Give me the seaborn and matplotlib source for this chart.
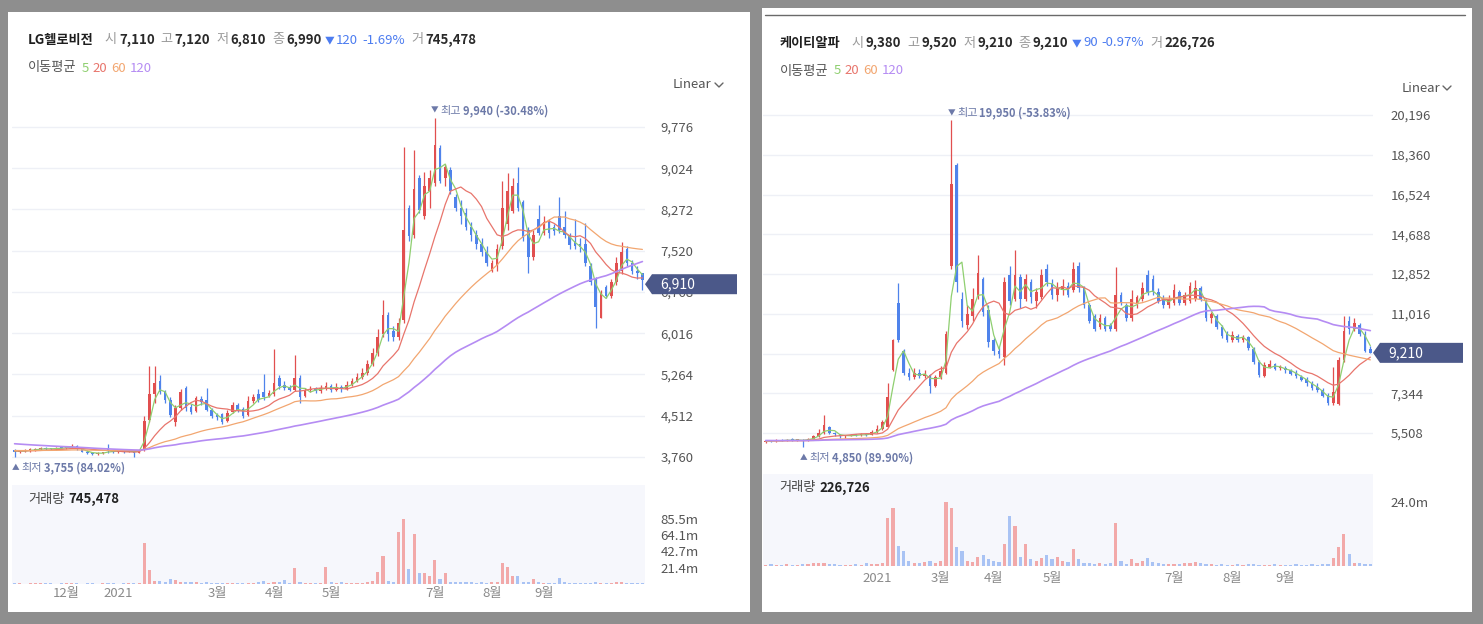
import numpy as np
import pandas as pd
import matplotlib
matplotlib.use("Agg")
import matplotlib.pyplot as plt
import matplotlib.transforms as mtransforms
import seaborn as sns
from matplotlib.patches import Rectangle, Polygon
from matplotlib.lines import Line2D
from matplotlib.ticker import FuncFormatter

# -------------------
# Data (2-day candles)
# -------------------
# closes before the visible window, estimated from where the long MAs start
lg_prior_close = [4280, 4260, 4250, 4240, 4230, 4220, 4230, 4210, 4200, 4190, 4200, 4180, 4170, 4160, 4170, 4150, 4140, 4130, 4120, 4110,
                  4100, 4080, 4060, 4040, 4020, 3950, 3930, 3920, 3900, 3910, 3890, 3880, 3900, 3890, 3880, 3870, 3890, 3900, 3880, 3870,
                  3860, 3880, 3890, 3900, 3880, 3870, 3860, 3880, 3890, 3870, 3880, 3860, 3870, 3880, 3890, 3870, 3860, 3870, 3880]
lg_open = [3880, 3850, 3870, 3880, 3890, 3900, 3920, 3910, 3900, 3930, 3920, 3940, 3960, 3900, 3860, 3840, 3820, 3830, 3900, 3880,
           3860, 3870, 3860, 3870, 3840, 3880, 4440, 4900, 5150, 4950, 4800, 4400, 4650, 5020, 4680, 4600, 4820, 4800, 4620, 4520,
           4550, 4420, 4580, 4700, 4640, 4520, 4780, 4900, 4950, 4880, 4900, 5200, 5080, 5030, 4990, 5200, 4880, 4980, 5000, 4960,
           5020, 5060, 4980, 5040, 5000, 5080, 5150, 5220, 5300, 5450, 5650, 6000, 6350, 6050, 5950, 6250, 8300, 7800, 8850, 8150,
           8600, 8750, 9400, 8850, 9000, 8500, 8300, 8200, 7950, 7800, 7650, 7500, 7150, 7250, 7600, 8000, 8250, 8750, 8400, 7900,
           7400, 8100, 7850, 8050, 7950, 8150, 7950, 7780, 7700, 7650, 7650, 7250, 7000, 6300, 6850, 6700, 6950, 7150, 7550, 7300,
           7150, 7110]
lg_high = [3900, 3890, 3900, 3920, 3930, 3950, 3940, 3930, 3950, 3950, 3960, 3990, 3970, 3910, 3880, 3860, 3850, 3860, 4000, 3890,
           3890, 3880, 3890, 3880, 3890, 4500, 5420, 5410, 5250, 4990, 4850, 4700, 5000, 5060, 4720, 4870, 4880, 5020, 4650, 4560,
           4570, 4620, 4760, 4740, 4680, 4880, 4900, 5000, 5270, 4990, 5730, 5250, 5140, 5080, 5620, 5260, 5020, 5050, 5040, 5080,
           5120, 5090, 5100, 5080, 5150, 5200, 5300, 5380, 5520, 5750, 6100, 6620, 6400, 6150, 6300, 9410, 8350, 9360, 8900, 8950,
           9000, 9940, 9450, 9100, 9050, 8550, 8450, 8300, 8050, 7900, 7750, 7600, 7350, 7650, 8800, 8940, 8850, 9050, 8450, 7950,
           7900, 8350, 8150, 8100, 8000, 8500, 8250, 7850, 8100, 7750, 8030, 7300, 7050, 6800, 6900, 7000, 7400, 7680, 7600, 7350,
           7250, 7120]
lg_low = [3755, 3830, 3850, 3860, 3870, 3880, 3890, 3880, 3890, 3900, 3900, 3920, 3890, 3850, 3820, 3800, 3800, 3810, 3840, 3840,
          3840, 3840, 3850, 3760, 3830, 3870, 4400, 4750, 4900, 4750, 4480, 4330, 4620, 4600, 4540, 4580, 4700, 4600, 4470, 4430,
          4370, 4400, 4560, 4580, 4470, 4500, 4750, 4760, 4800, 4850, 4880, 5000, 4990, 4960, 4970, 4740, 4860, 4940, 4920, 4930,
          4990, 4950, 4960, 4940, 4980, 5050, 5120, 5180, 5260, 5420, 5600, 5950, 5880, 5880, 5900, 6200, 7700, 7750, 8200, 8100,
          8300, 8700, 8750, 8700, 8550, 8250, 8000, 7900, 7700, 7550, 7420, 7250, 7130, 7150, 7550, 7900, 8200, 8250, 7700, 7120,
          7350, 7800, 7800, 7750, 7800, 7850, 7750, 7550, 7550, 7500, 7250, 6900, 6110, 6290, 6650, 6650, 6900, 7100, 7250, 7100,
          7000, 6810]
lg_close = [3850, 3870, 3880, 3890, 3900, 3920, 3910, 3900, 3930, 3920, 3940, 3960, 3900, 3860, 3840, 3820, 3830, 3840, 3880, 3860,
            3870, 3860, 3870, 3840, 3880, 4420, 4900, 5100, 4950, 4800, 4520, 4650, 4950, 4650, 4580, 4830, 4760, 4620, 4500, 4480,
            4400, 4560, 4700, 4620, 4500, 4780, 4850, 4800, 4850, 4920, 5100, 5050, 5020, 4990, 5200, 4850, 4980, 5000, 4960, 5020,
            5060, 4980, 5040, 5000, 5080, 5150, 5220, 5300, 5450, 5650, 5950, 6350, 6000, 5950, 6200, 7900, 7780, 8650, 8270, 8700,
            8850, 9450, 8800, 9050, 8600, 8300, 8150, 7950, 7800, 7650, 7500, 7300, 7300, 7550, 8300, 8600, 8700, 8300, 7750, 7400,
            7800, 7850, 8050, 7850, 7880, 7900, 7800, 7620, 7600, 7580, 7300, 6950, 6500, 6750, 6700, 6950, 7300, 7500, 7300, 7150,
            7110, 6990]
lg_volume = [0.8, 1.0, 0.6, 0.9, 1.2, 0.7, 0.8, 1.0, 0.6, 0.9, 1.1, 1.5, 0.8, 0.6, 0.7, 0.9, 0.6, 0.8, 1.3, 0.7,
             0.6, 0.8, 0.7, 0.9, 1.0, 53, 18, 4, 3.5, 2, 6, 5, 3, 2.5, 2, 2.5, 1.5, 2.5, 1.5, 1.2,
             1.5, 1.2, 1.5, 1.2, 1.0, 1.5, 1.2, 2, 4, 1.5, 3, 2, 5, 1.5, 21, 3, 1.5, 1.2, 1, 1.5,
             22, 2, 1.2, 3, 1.2, 1, 1.2, 1.5, 2, 4, 16, 36, 4, 3, 68, 85, 19, 66, 15, 14,
             10, 31, 6, 15, 3, 3, 2.5, 3, 2, 1.5, 2, 1.5, 2, 3, 27, 22, 11, 11, 3, 3,
             6, 2, 1.5, 1.5, 1.5, 8, 2, 1.5, 1.2, 1, 1.5, 1.5, 2, 1.5, 1, 1.2, 3, 2, 1, 1,
             0.8, 0.7]
lg_xlabels = ["12월", "2021", "3월", "4월", "5월", "7월", "8월", "9월"]
lg_xtick_idx = [10, 20, 39, 50, 61, 81, 92, 102]
lg_yticks = [3760, 4512, 5264, 6016, 6768, 7520, 8272, 9024, 9776]
lg_vticks = [21.4, 42.7, 64.1, 85.5]
lg_last = 6910
lg_last_volume = "745,478"

kt_prior_close = [5200, 5230, 5180, 5150, 5170, 5210, 5190, 5160, 5140, 5180, 5220, 5200, 5170, 5150, 5130, 5160, 5190, 5210, 5180, 5150,
                  5120, 5140, 5170, 5190, 5160, 5130, 5150, 5180, 5200, 5170, 5140, 5120, 5150, 5170, 5190, 5160, 5140, 5130, 5150, 5180,
                  5170, 5150, 5130, 5140, 5160, 5180, 5170, 5150, 5120, 5130, 5150, 5170, 5160, 5140, 5130, 5150, 5160, 5140, 5130]
kt_open = [5100, 5150, 5120, 5180, 5150, 5200, 5170, 5190, 5150, 5250, 5350, 5500, 5800, 5500, 5450, 5350, 5380, 5420, 5400, 5450,
           5420, 5550, 5700, 5800, 8400, 11500, 9300, 8300, 8100, 8300, 8150, 8200, 7700, 8100, 8300, 13200, 17900, 11700, 10500, 10900,
           11800, 12600, 11200, 9800, 9300, 9000, 12800, 11700, 12700, 11700, 12500, 11600, 11800, 13100, 12400, 11900, 12100, 12300, 12100, 13200,
           12200, 11400, 10900, 10400, 10800, 10500, 10300, 11900, 11400, 10800, 11500, 11700, 12800, 12600, 12000, 11700, 11400, 11500, 12000, 11500,
           11600, 11700, 12200, 11600, 10800, 10900, 10400, 10100, 9800, 10000, 9800, 9950, 9400, 8800, 8150, 8550, 8700, 8500, 8500, 8400,
           8300, 8100, 8000, 7800, 7650, 7500, 7250, 6900, 6850, 8900, 10700, 10300, 10500, 10100, 9380]
kt_high = [5200, 5190, 5220, 5230, 5240, 5260, 5230, 5210, 5300, 5400, 5700, 6340, 5850, 5550, 5480, 5420, 5480, 5460, 5500, 5520,
           5650, 5900, 6110, 7820, 9850, 12440, 9400, 8500, 8500, 8450, 8400, 8250, 8200, 8600, 10200, 19950, 18000, 12000, 11400, 12200,
           13730, 12700, 11400, 9900, 9500, 12700, 13200, 13950, 12850, 12850, 12600, 12200, 13100, 13300, 12600, 12500, 12600, 12500, 13400, 13400,
           12300, 11500, 11000, 11000, 10900, 10600, 13175, 12000, 11500, 12100, 11900, 12500, 13040, 12800, 12200, 11900, 11900, 12400, 12100, 12000,
           12500, 12580, 12300, 11700, 11100, 11000, 10500, 10200, 10200, 10100, 10050, 10000, 9500, 8900, 8800, 8900, 8750, 8650, 8600, 8450,
           8400, 8200, 8100, 7900, 7800, 7600, 7350, 8560, 9000, 10900, 10900, 10800, 10600, 10200, 9520]
kt_low = [5050, 5080, 5100, 5120, 5120, 5140, 5130, 4850, 5120, 5220, 5320, 5450, 5450, 5380, 5300, 5300, 5350, 5360, 5370, 5380,
          5400, 5520, 5650, 5780, 8350, 9700, 8200, 7950, 8000, 8050, 8050, 7350, 7650, 8000, 8250, 13100, 12000, 10400, 10300, 10700,
          11700, 10900, 9500, 9100, 8950, 8650, 11400, 11600, 11300, 11600, 11500, 11300, 11700, 12300, 11700, 11600, 11900, 11800, 12000, 12000,
          11300, 10600, 10200, 10300, 10200, 10200, 10200, 11400, 10700, 10700, 11300, 11600, 11900, 11900, 11500, 11300, 11300, 11400, 11400, 11400,
          11500, 11600, 11600, 10700, 10600, 10300, 9900, 9700, 9700, 9700, 9700, 9350, 8700, 8100, 8100, 8500, 8400, 8400, 8300, 8200,
          8050, 7900, 7700, 7500, 7400, 7150, 6800, 6800, 6800, 8800, 10100, 10200, 10000, 9250, 9210]
kt_close = [5150, 5120, 5180, 5150, 5200, 5170, 5190, 5150, 5250, 5350, 5500, 5900, 5500, 5450, 5350, 5380, 5420, 5400, 5450, 5420,
            5550, 5700, 6000, 7150, 9800, 9800, 8300, 8100, 8300, 8150, 8250, 7700, 8100, 8350, 10100, 17000, 12500, 10700, 11000, 11700,
            12900, 11100, 9700, 9300, 9150, 12500, 11600, 12800, 11700, 12600, 11800, 12000, 12800, 12500, 11900, 12200, 12300, 11900, 13100, 12200,
            11400, 10700, 10300, 10800, 10300, 10300, 11900, 11500, 10800, 11700, 11800, 12200, 12000, 12000, 11600, 11400, 11700, 12100, 11500, 11900,
            12300, 12200, 11700, 10800, 11000, 10400, 10000, 9800, 10050, 9800, 9950, 9450, 8800, 8200, 8650, 8700, 8450, 8550, 8400, 8250,
            8150, 7950, 7800, 7600, 7500, 7200, 6900, 7400, 8900, 10200, 10300, 10600, 10100, 9300, 9210]
kt_volume = [0.5, 0.6, 0.4, 0.5, 0.6, 0.5, 0.4, 0.6, 0.8, 1.0, 1.3, 1.3, 0.8, 0.6, 0.5, 0.4, 0.5, 0.6, 0.5, 1.3,
             0.6, 0.8, 1.0, 18, 22, 7.6, 5.6, 2, 1.2, 1, 1.5, 1.8, 1.2, 2, 24, 22, 7, 5.6, 2, 1.5,
             3.4, 4.3, 2.5, 2, 1.5, 8.3, 18.7, 15, 3.4, 8.3, 2.7, 2, 3, 4, 2.5, 3.4, 2, 1.5, 6.3, 2.5,
             1.2, 1, 0.8, 1, 0.8, 1, 16.3, 1.7, 0.6, 2.7, 1, 1.7, 3, 1.5, 1, 0.8, 0.6, 0.8, 0.7, 1,
             1.2, 1.5, 1, 0.8, 0.6, 0.5, 0.6, 0.4, 0.5, 0.7, 0.5, 0.6, 0.8, 0.5, 0.4, 0.5, 0.6, 0.4, 0.5, 0.4,
             0.6, 0.5, 0.4, 0.6, 0.5, 0.6, 0.8, 3, 7.3, 12.2, 4.7, 1.2, 1, 0.8, 0.6]
kt_xlabels = ["2021", "3월", "4월", "5월", "7월", "8월", "9월"]
kt_xtick_idx = [21, 33, 43, 54, 77, 88, 98]
kt_yticks = [5508, 7344, 9180, 11016, 12852, 14688, 16524, 18360, 20196]
kt_vticks = [24.0]
kt_last = 9210
kt_last_volume = "226,726"

ma_labels = ["5", "20", "60", "120"]
ma_windows = [3, 10, 30, 60]   # 2-day candles
ma_colors = ["#8fcf70", "#e8756c", "#f2a670", "#b58cf3"]

# -------------------
# Style
# -------------------
RED, BLUE = "#e14f4f", "#4f83eb"
VOL_RED, VOL_BLUE = "#f2a9a9", "#a9c3f4"
TAG = "#4b5889"
NOTE = "#6c79a8"

sns.set_theme(style="white")
plt.rcParams["font.family"] = ["Noto Sans CJK KR", "DejaVu Sans"]

W, H = 1483, 624
fig = plt.figure(figsize=(W / 100, H / 100), dpi=100)
fig.patch.set_facecolor("#8e8e8e")
renderer = fig.canvas.get_renderer()
IDENT = mtransforms.IdentityTransform()

for x0, y0, x1, y1 in [(8, 12, 750, 612), (762, 8, 1472, 612)]:
    fig.add_artist(Rectangle((x0 / W, 1 - y1 / H), (x1 - x0) / W, (y1 - y0) / H,
                             transform=fig.transFigure, facecolor="white", edgecolor="none", zorder=-5))
fig.add_artist(Line2D([765 / W, 1465 / W], [1 - 15 / H, 1 - 15 / H], transform=fig.transFigure,
                      color="#6a6a6a", lw=1))


def px_axes(x0, y0, x1, y1):
    return fig.add_axes([x0 / W, 1 - y1 / H, (x1 - x0) / W, (y1 - y0) / H])


def run_text(x, y, pieces, size=9.5):
    """Draw text pieces one after another starting at pixel (x, y), top-left origin."""
    for s, color, bold, gap, fs in pieces:
        t = fig.text(x / W, 1 - y / H, s, color=color, fontsize=fs or size,
                     fontweight="bold" if bold else "normal", ha="left", va="center")
        x += t.get_window_extent(renderer).width + gap
    return x


def chevron(x, y):
    fig.add_artist(Line2D([x / W, (x + 4) / W, (x + 8) / W], [1 - (y - 2) / H, 1 - (y + 2) / H, 1 - (y - 2) / H],
                          transform=fig.transFigure, color="#666666", lw=1))


def draw_panel(geo, prior, o, h, l, c, v, last, yticks, vticks, xtick_idx, xlabels):
    o, h, l, c, v = (np.asarray(a, float) for a in (o, h, l, c, v))
    x = np.arange(len(c))
    up = c >= o

    ax = px_axes(*geo["price_box"])
    vax = px_axes(*geo["vol_box"])

    # candles
    colors = np.where(up, RED, BLUE)
    ax.vlines(x, l, h, colors=colors, lw=0.9, zorder=2)
    ax.bar(x, np.maximum(np.abs(c - o), geo["min_body"]), bottom=np.minimum(o, c),
           width=0.5, color=colors, lw=0, zorder=2)

    # moving averages (warmed up with the closes before the window)
    close = pd.Series(list(prior) + list(c))
    for lab, w, col in zip(ma_labels, ma_windows, ma_colors):
        ma = close.rolling(w, min_periods=1).mean().values[len(prior):]
        sns.lineplot(x=x, y=ma, ax=ax, color=col, lw=1.2 if lab == "120" else 0.9,
                     zorder=3, legend=False)

    ax.set_xlim(-0.5, len(c) - 0.5)
    ax.set_ylim(*geo["ylim"])
    ax.set_yticks(yticks)
    ax.set_xticks([])
    ax.set_xlabel("")
    ax.set_ylabel("")
    ax.yaxis.tick_right()
    ax.yaxis.set_major_formatter(FuncFormatter(lambda val, pos: f"{val:,.0f}"))
    ax.tick_params(axis="y", length=0, pad=geo["ypad"], labelsize=9.5, labelcolor="#555555")
    ax.grid(axis="y", color="#eef0f6", lw=1)
    ax.set_facecolor("none")
    sns.despine(ax=ax, left=True, bottom=True, right=True, top=True)

    # volume
    vax.bar(x, v, width=0.6, color=np.where(up, VOL_RED, VOL_BLUE), lw=0)
    vax.set_xlim(-0.5, len(c) - 0.5)
    vax.set_ylim(0, geo["vmax"])
    vax.set_yticks(vticks)
    vax.yaxis.tick_right()
    vax.yaxis.set_major_formatter(FuncFormatter(lambda val, pos: f"{val:.1f}m"))
    vax.set_xticks(xtick_idx)
    vax.set_xticklabels(xlabels)
    vax.tick_params(axis="y", length=0, pad=geo["ypad"], labelsize=9.5, labelcolor="#555555")
    vax.tick_params(axis="x", length=0, pad=geo["xpad"], labelsize=9.5, labelcolor="#8a8a8a")
    vax.set_facecolor("#f6f7fc")
    sns.despine(ax=vax, left=True, bottom=True, right=True, top=True)

    # last price tag
    xt, xe = geo["tag_x"]
    yd = ax.transData.transform((0, last))[1]
    fig.add_artist(Polygon([(xt, yd), (xt + 7, yd + 10), (xe, yd + 10), (xe, yd - 10), (xt + 7, yd - 10)],
                           closed=True, transform=IDENT, facecolor=TAG, edgecolor="none", zorder=6))
    fig.text(xt + 15, yd, f"{last:,}", transform=IDENT, color="white", fontsize=10,
             ha="left", va="center", zorder=7)

    # highest / lowest notes
    ih, il = int(np.argmax(h)), int(np.argmin(l))
    xh, yh = ax.transData.transform((ih, h[ih]))
    xl, yl = ax.transData.transform((il, l[il]))
    run_text(xh - 4, H - yh - 7, [("▼", NOTE, False, 2, 5.5), ("최고", NOTE, False, 2, 8),
                                   (f"{h[ih]:,.0f} ({(last - h[ih]) / h[ih] * 100:.2f}%)", NOTE, True, 0, 8)])
    run_text(xl - 3, H - yl + 11, [("▲", NOTE, False, 2, 5.5), ("최저", NOTE, False, 2, 8),
                                    (f"{l[il]:,.0f} ({(last - l[il]) / l[il] * 100:.2f}%)", NOTE, True, 0, 8)])
    return o, h, l, c


def header(x, y, name, o, h, l, c, vol_text):
    chg = c[-1] - c[-2]
    pct = chg / c[-2] * 100
    arrow = "▼" if chg < 0 else "▲"
    chg_col = "#4c7cf0" if chg < 0 else RED
    run_text(x, y, [(name, "#1e1e1e", True, 11, None),
                    ("시", "#9a9a9a", False, 2, None), (f"{o[-1]:,.0f}", "#2a2a2a", True, 6, None),
                    ("고", "#9a9a9a", False, 2, None), (f"{h[-1]:,.0f}", "#2a2a2a", True, 6, None),
                    ("저", "#9a9a9a", False, 2, None), (f"{l[-1]:,.0f}", "#2a2a2a", True, 6, None),
                    ("종", "#9a9a9a", False, 2, None), (f"{c[-1]:,.0f}", "#2a2a2a", True, 3, None),
                    (arrow, chg_col, False, 2, 7), (f"{abs(chg):,.0f}", chg_col, False, 4, None),
                    (f"{pct:.2f}%", chg_col, False, 6, None),
                    ("거", "#9a9a9a", False, 2, None), (vol_text, "#2a2a2a", True, 0, None)])
    run_text(x, y + 28, [("이동평균", "#555555", False, 5, None)] +
             [(lab, col, False, 4, None) for lab, col in zip(ma_labels, ma_colors)])


lg_geo = {"price_box": (12, 95, 645, 478), "vol_box": (12, 485, 645, 584),
          "ylim": (3377, 10359), "vmax": 129.5, "min_body": 20, "ypad": 11, "xpad": 2.5,
          "tag_x": (645, 737)}
kt_geo = {"price_box": (763, 95, 1373, 470), "vol_box": (763, 474, 1373, 566),
          "ylim": (3799, 21120), "vmax": 34.6, "min_body": 45, "ypad": 12.5, "xpad": 4,
          "tag_x": (1373, 1463)}

o1, h1, l1, c1 = draw_panel(lg_geo, lg_prior_close, lg_open, lg_high, lg_low, lg_close, lg_volume, lg_last,
                            lg_yticks, lg_vticks, lg_xtick_idx, lg_xlabels)
o2, h2, l2, c2 = draw_panel(kt_geo, kt_prior_close, kt_open, kt_high, kt_low, kt_close, kt_volume, kt_last,
                            kt_yticks, kt_vticks, kt_xtick_idx, kt_xlabels)

header(28, 40, "LG헬로비전", o1, h1, l1, c1, lg_last_volume)
header(780, 43, "케이티알파", o2, h2, l2, c2, kt_last_volume)

run_text(673, 85, [("Linear", "#555555", False, 0, None)])
chevron(715, 85)
run_text(1402, 88, [("Linear", "#555555", False, 0, None)])
chevron(1443, 88)

run_text(28, 499, [("거래량", "#444444", False, 4, None), (lg_last_volume, "#222222", True, 0, None)])
run_text(779, 488, [("거래량", "#444444", False, 4, None), (kt_last_volume, "#222222", True, 0, None)])

fig.savefig("out.png", dpi=100, facecolor=fig.get_facecolor())
